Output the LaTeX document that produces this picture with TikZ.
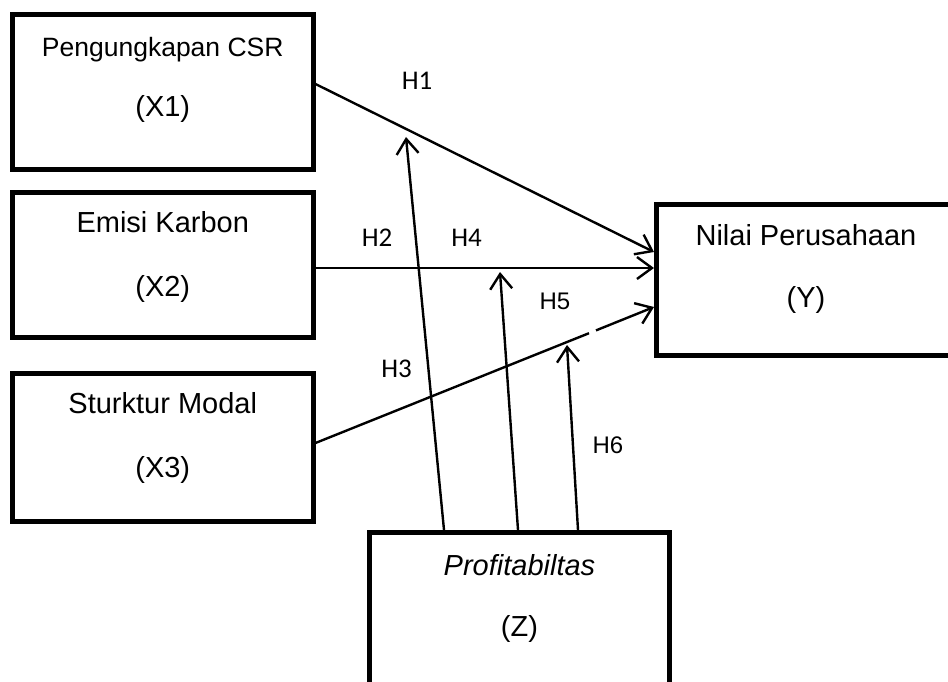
\documentclass[tikz,border=0pt]{standalone}
\usepackage{fontspec}
\setmainfont{Liberation Sans}
\newfontfamily\calfont{Carlito}
\usetikzlibrary{arrows.meta,calc}
\begin{document}
\begin{tikzpicture}[x=1pt,y=-1pt,
  box/.style={draw,line width=5pt,rectangle,inner sep=0pt},
  boxtext/.style={anchor=base,inner sep=0pt,font=\fontsize{29}{31}\selectfont},
  smalltext/.style={anchor=base,inner sep=0pt,font=\fontsize{26.5}{28}\selectfont},
  hlabA/.style={anchor=base,inner sep=0pt,font=\calfont\fontsize{27}{29}\selectfont},
  hlabB/.style={anchor=base,inner sep=0pt,font=\fontsize{24}{26}\selectfont},
  link/.style={line width=2.4pt},
  arr/.style={line width=2.4pt,-{Straight Barb[length=15pt,width=22pt,line width=2.4pt]}}]
\clip (0,0) rectangle (948,682);
\fill[white] (0,0) rectangle (948,682);
% boxes
\node[box,minimum width=300.5pt,minimum height=154.5pt] (x1) at (162.75,92.25) {};
\node[box,minimum width=300.5pt,minimum height=144.5pt] (x2) at (162.75,264.75) {};
\node[box,minimum width=300.5pt,minimum height=148pt] (x3) at (162.75,447) {};
\node[box,minimum width=299.5pt,minimum height=151pt] (y) at (806.25,280) {};
\node[box,minimum width=300pt,minimum height=187.5pt] (z) at (519.5,626.25) {};
% box texts
\node[smalltext] (x1a) at (162.75,57) {Pengungkapan CSR};
\node[boxtext] (x1b) at (162.75,116.5) {(X1)};
\node[boxtext] (x2a) at (162.75,232) {Emisi Karbon};
\node[boxtext] (x2b) at (162.75,296) {(X2)};
\node[boxtext] (x3a) at (162.75,413) {Sturktur Modal};
\node[boxtext] (x3b) at (162.75,477) {(X3)};
\node[boxtext] (ya) at (806,245) {Nilai Perusahaan};
\node[boxtext] (yb) at (806,307) {(Y)};
\node[boxtext] (za) at (519.5,575) {\itshape Profitabiltas};
\node[boxtext] (zb) at (519.5,636) {(Z)};
% free ends
\coordinate (t1) at (406,137);
\coordinate (t2) at (500,272);
\coordinate (t3) at (567,345);
\coordinate (g1) at (589,333.2);
\coordinate (g2) at (596,330.4);
% connectors
\draw[arr] ([yshift=8.25pt]x1.east) -- ([yshift=28pt]y.west);
\draw[arr] ([yshift=-3.25pt]x2.east) -- ([yshift=12pt]y.west);
\draw[link] ([yshift=4pt]x3.east) -- (g1);
\draw[arr] (g2) -- ([yshift=-27pt]y.west);
\draw[arr] ([xshift=-75.5pt]z.north) -- (t1);
\draw[arr] ([xshift=-1.5pt]z.north) -- (t2);
\draw[arr] ([xshift=58.5pt]z.north) -- (t3);
% labels
\node[hlabA] (h1) at (417,90) {H1};
\node[hlabA] (h2) at (377,246) {H2};
\node[hlabA] (h4) at (466.5,246) {H4};
\node[hlabB] (h5) at (555,309) {H5};
\node[hlabA] (h3) at (396.5,377) {H3};
\node[hlabB] (h6) at (608,453) {H6};
\end{tikzpicture}
\end{document}
